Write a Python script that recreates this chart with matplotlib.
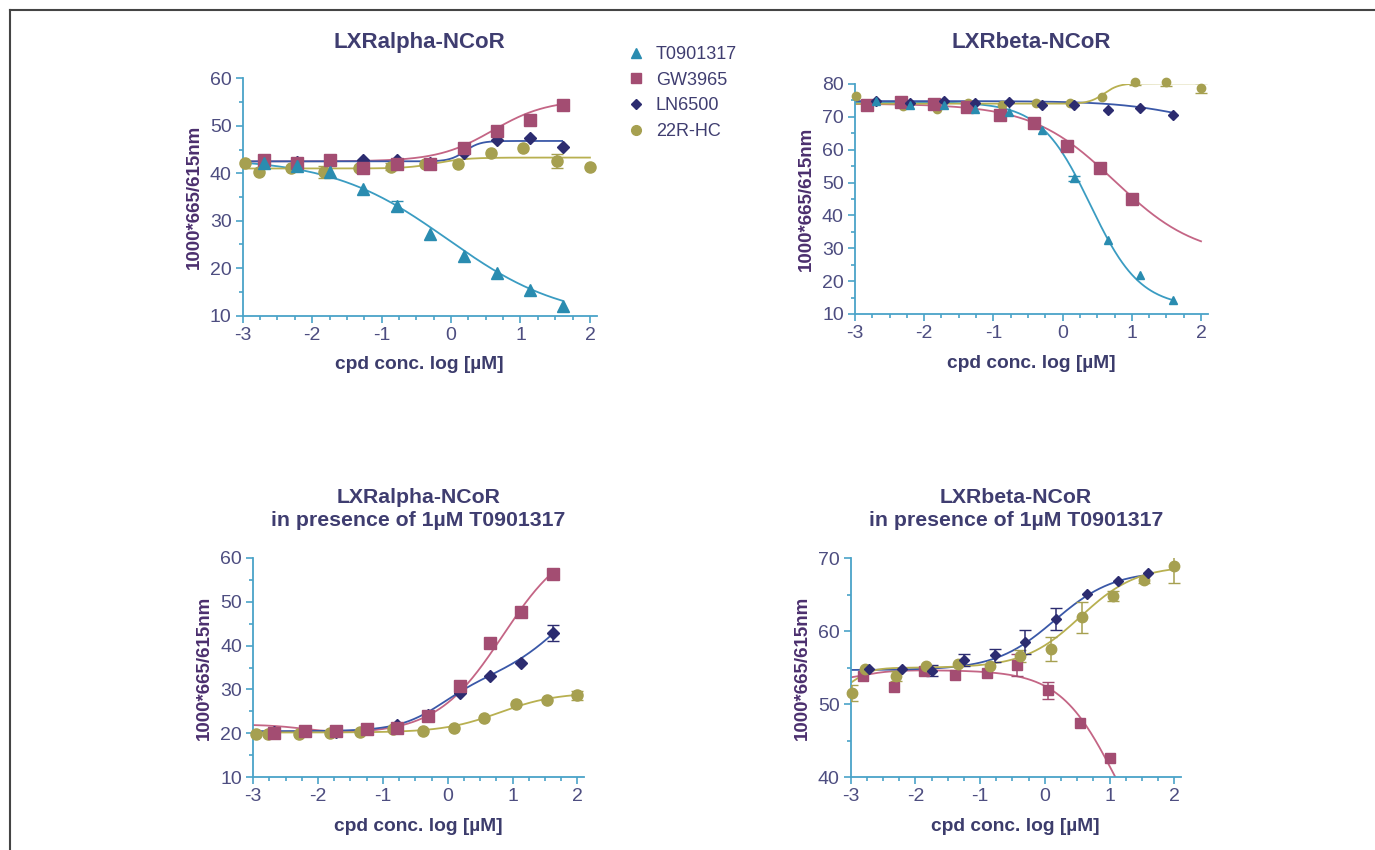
import numpy as np
import matplotlib.pyplot as plt
from matplotlib.lines import Line2D
from matplotlib.ticker import MultipleLocator

plt.rcParams['font.family'] = ['Liberation Sans', 'DejaVu Sans']
plt.rcParams['axes.unicode_minus'] = False

compounds = ['T0901317', 'GW3965', 'LN6500', '22R-HC']

# ---- panel A: LXRalpha-NCoR ----
a_x = [-2.70, -2.22, -1.74, -1.27, -0.78, -0.30, 0.18, 0.66, 1.13, 1.61]
a_t_y = [42.1, 41.5, 40.3, 36.6, 33.1, 27.3, 22.6, 18.9, 15.5, 12.1]
a_t_e = [0, 0, 0, 0, 1.0, 0, 0, 0, 0, 0]
a_gw_y = [42.8, 42.2, 42.8, 41.0, 41.9, 41.9, 45.4, 48.9, 51.2, 54.3]
a_ln_y = [42.6, 42.4, 42.5, 42.7, 42.7, 42.2, 44.2, 47.1, 47.4, 45.5]
a_hc_x = [-2.97, -2.77, -2.30, -1.83, -1.33, -0.87, -0.38, 0.10, 0.57, 1.04, 1.52, 2.00]
a_hc_y = [42.1, 40.2, 41.2, 40.3, 41.2, 41.4, 41.9, 41.9, 44.2, 45.4, 42.6, 41.4]
a_hc_e = [0, 0, 0, 1.2, 0, 0.8, 0, 0, 0, 0, 1.5, 0]

# ---- panel B: LXRbeta-NCoR ----
b_x = [-2.69, -2.20, -1.72, -1.27, -0.78, -0.30, 0.16, 0.66, 1.12, 1.60]
b_t_y = [74.9, 73.7, 73.7, 72.3, 71.6, 66.0, 51.3, 32.5, 21.9, 14.2]
b_t_e = [0, 0, 0, 0, 0, 0, 0.8, 0, 0, 0]
b_ln_y = [74.8, 74.2, 74.7, 74.3, 74.5, 73.5, 73.5, 72.1, 72.6, 70.6]
b_gw_x = [-2.82, -2.34, -1.86, -1.38, -0.90, -0.42, 0.06, 0.54, 1.00]
b_gw_y = [73.6, 74.5, 73.9, 73.1, 70.7, 68.0, 61.1, 54.3, 45.0]
b_hc_x = [-2.99, -2.30, -1.82, -1.36, -0.87, -0.38, 0.10, 0.57, 1.05, 1.50, 2.00]
b_hc_y = [76.3, 73.3, 72.3, 74.3, 73.6, 74.1, 74.1, 76.1, 80.5, 80.7, 78.9]
b_hc_e = [0, 0, 0, 0, 0, 0, 0, 0, 0.9, 1.2, 1.5]

# ---- panel C: LXRalpha-NCoR + 1uM T0901317 ----
c_x = [-2.68, -2.20, -1.73, -1.25, -0.78, -0.30, 0.19, 0.65, 1.13, 1.62]
c_gw_y = [20.0, 20.5, 20.5, 21.0, 21.2, 24.0, 30.8, 40.5, 47.7, 56.3]
c_ln_y = [20.4, 20.6, 20.3, 21.1, 22.0, 24.3, 29.3, 33.1, 36.1, 42.9]
c_ln_e = [0, 0, 0, 0, 0, 0, 0, 0, 0, 1.8]
c_hc_x = [-2.96, -2.77, -2.30, -1.82, -1.35, -0.84, -0.38, 0.10, 0.56, 1.05, 1.53, 2.00]
c_hc_y = [19.8, 19.8, 19.8, 20.0, 20.4, 20.9, 20.5, 21.3, 23.4, 26.6, 27.6, 28.7]
c_hc_e = [0, 0, 0, 0, 0, 0, 0, 0, 0, 0, 0, 1.0]

# ---- panel D: LXRbeta-NCoR + 1uM T0901317 ----
d_ln_x = [-2.71, -2.21, -1.75, -1.25, -0.77, -0.31, 0.17, 0.65, 1.13, 1.60]
d_ln_y = [54.8, 54.8, 54.6, 56.1, 56.7, 58.6, 61.7, 65.1, 66.9, 68.0]
d_ln_e = [0, 0, 0.75, 0.85, 0.85, 1.65, 1.5, 0, 0, 0]
d_hc_x = [-2.98, -2.78, -2.30, -1.83, -1.34, -0.85, -0.38, 0.09, 0.57, 1.05, 1.53, 2.00]
d_hc_y = [51.6, 54.8, 53.9, 55.3, 55.5, 55.2, 56.6, 57.6, 61.9, 64.8, 67.1, 68.9]
d_hc_e = [1.1, 0, 0.7, 0, 0, 0, 0.8, 1.6, 2.15, 0.7, 0.5, 2.3]
d_gw_x = [-2.81, -2.33, -1.87, -1.39, -0.90, -0.43, 0.05, 0.54, 1.00]
d_gw_y = [53.9, 52.4, 54.5, 54.0, 54.3, 55.4, 51.9, 47.5, 42.7]
d_gw_e = [0, 0, 0, 0, 0, 1.5, 1.2, 0, 0]

# fitted curve parameters: (y0, d1, logEC50_1, hill1, d2, logEC50_2, hill2), x end
a_fits = {'T0901317': ((43.2, -34.2, -0.05, 0.52, 0, 0, 1), 1.6),
          'GW3965': ((42.5, 13.0, 0.6, 1.1, 0, 0, 1), 1.6),
          'LN6500': ((42.5, 4.3, 0.2, 4.0, 0, 0, 1), 1.6),
          '22R-HC': ((41.0, 2.3, -0.2, 2.0, 0, 0, 1), 2.0)}
b_fits = {'T0901317': ((74.5, -62.5, 0.4, 1.2, 0, 0, 1), 1.6),
          'GW3965': ((74.0, -47.0, 0.75, 0.73, 0, 0, 1), 2.0),
          'LN6500': ((74.8, -9.8, 1.9, 0.8, 0, 0, 1), 1.6),
          '22R-HC': ((74.0, 6.2, 0.6, 4.0, 0, 0, 1), 2.0)}
c_fits = {'GW3965': ((22.0, -2.2, -2.2, 1.5, 45.0, 0.85, 0.85), 1.6),
          'LN6500': ((20.5, 11.0, -0.1, 1.3, 30.0, 1.9, 0.8), 1.6),
          '22R-HC': ((20.2, 9.1, 0.8, 1.0, 0, 0, 1), 2.0)}
d_fits = {'GW3965': ((53.3, 1.4, -2.8, 2.0, -29.7, 1.1, 1.0), 2.0),
          'LN6500': ((54.7, 13.6, 0.15, 0.95, 0, 0, 1), 1.6),
          '22R-HC': ((51.5, 3.5, -2.95, 3.0, 14.0, 0.55, 1.0), 2.0)}

mk = {'T0901317': '^', 'GW3965': 's', 'LN6500': 'D', '22R-HC': 'o'}
mcol = {'T0901317': '#2a8cb0', 'GW3965': '#a34d72', 'LN6500': '#2c2c70', '22R-HC': '#a6a050'}
lcol = {'T0901317': '#3a9cc2', 'GW3965': '#c46585', 'LN6500': '#3a58a8', '22R-HC': '#b8b050'}

AXCOL = '#4aa3c8'
TICKCOL = '#4d4d80'
TITLECOL = '#3f3d70'


def curve(x, p):
    y0, d1, c1, h1, d2, c2, h2 = p
    return y0 + d1 / (1 + 10 ** ((c1 - x) * h1)) + d2 / (1 + 10 ** ((c2 - x) * h2))


def draw(ax, fits, points, ylim, ystep, msz):
    for name, (p, xend) in fits.items():
        xs = np.linspace(-3, xend, 300)
        ax.plot(xs, curve(xs, p), color=lcol[name], lw=1.3, zorder=2)
    for name, x, y, e in points:
        s = msz[name]
        if e is not None:
            e = np.array(e)
            m = e > 0
            ax.errorbar(np.array(x)[m], np.array(y)[m], yerr=e[m], fmt='none',
                        ecolor=mcol[name], elinewidth=1.1, capsize=4, zorder=3)
        ax.plot(x, y, ls='none', marker=mk[name], ms=s, color=mcol[name],
                mec=mcol[name], zorder=4, clip_on=False)
    ax.set_xlim(-3, 2.1)
    ax.set_ylim(*ylim)
    ax.xaxis.set_major_locator(MultipleLocator(1))
    ax.xaxis.set_minor_locator(MultipleLocator(0.25))
    ax.yaxis.set_major_locator(MultipleLocator(ystep))
    ax.yaxis.set_minor_locator(MultipleLocator(ystep / 2))
    for s in ['top', 'right']:
        ax.spines[s].set_visible(False)
    for s in ['left', 'bottom']:
        ax.spines[s].set_color(AXCOL)
        ax.spines[s].set_linewidth(1.3)
    ax.tick_params(which='both', direction='out', color=AXCOL, width=1.2)
    ax.tick_params(which='major', length=5, labelsize=14, labelcolor=TICKCOL, pad=3)
    ax.tick_params(which='minor', length=3)
    ax.set_xlabel('cpd conc. log [µM]', fontsize=13.8, fontweight='bold', color='#3c3c6c', labelpad=9)
    ax.set_ylabel('1000*665/615nm', fontsize=13.5, fontweight='bold', color='#4b2f6e', labelpad=5)


fig = plt.figure(figsize=(13.75, 8.5), dpi=100)
ax_a = fig.add_axes([0.1765, 0.6286, 0.2576, 0.2793])
ax_b = fig.add_axes([0.6218, 0.6306, 0.2567, 0.2706])
ax_c = fig.add_axes([0.1842, 0.0855, 0.2404, 0.2584])
ax_d = fig.add_axes([0.6187, 0.0855, 0.2400, 0.2576])

big = {'T0901317': 8, 'GW3965': 8.5, 'LN6500': 6, '22R-HC': 8}
small = {'T0901317': 6, 'GW3965': 8, 'LN6500': 5, '22R-HC': 6}
mid = {'T0901317': 7, 'GW3965': 7.5, 'LN6500': 5.5, '22R-HC': 7.5}

draw(ax_a, a_fits,
     [('22R-HC', a_hc_x, a_hc_y, a_hc_e), ('LN6500', a_x, a_ln_y, None),
      ('GW3965', a_x, a_gw_y, None), ('T0901317', a_x, a_t_y, a_t_e)],
     (10, 60), 10, big)
draw(ax_b, b_fits,
     [('22R-HC', b_hc_x, b_hc_y, b_hc_e), ('GW3965', b_gw_x, b_gw_y, None),
      ('LN6500', b_x, b_ln_y, None), ('T0901317', b_x, b_t_y, b_t_e)],
     (10, 80), 10, small)
draw(ax_c, c_fits,
     [('LN6500', c_x, c_ln_y, c_ln_e), ('22R-HC', c_hc_x, c_hc_y, c_hc_e),
      ('GW3965', c_x, c_gw_y, None)],
     (10, 60), 10, big)
draw(ax_d, d_fits,
     [('GW3965', d_gw_x, d_gw_y, d_gw_e), ('22R-HC', d_hc_x, d_hc_y, d_hc_e),
      ('LN6500', d_ln_x, d_ln_y, d_ln_e)],
     (40, 70), 10, mid)

tkw = dict(fontweight='bold', color=TITLECOL)
ax_a.set_title('LXRalpha-NCoR', pad=22, fontsize=16, **tkw)
ax_b.set_title('LXRbeta-NCoR', pad=26, fontsize=16, **tkw)
ax_c.set_title('LXRalpha-NCoR\nin presence of 1µM T0901317', pad=23, linespacing=1.28,
               fontsize=15.3, **tkw)
ax_d.set_title('LXRbeta-NCoR\nin presence of 1µM T0901317', pad=23, linespacing=1.28,
               fontsize=15.3, **tkw)

handles = [Line2D([], [], ls='none', marker=mk[n], ms=7 if n != 'LN6500' else 5.5,
                  color=mcol[n]) for n in compounds]
fig.legend(handles, compounds, loc='upper left', bbox_to_anchor=(0.456, 0.946),
           frameon=False, fontsize=13, labelcolor='#3f3d70', handlelength=1.0,
           handletextpad=0.6, labelspacing=0.48, borderpad=0, borderaxespad=0)

# frame lines of the original figure panel
fig.add_artist(Line2D([10 / 1375, 1], [1 - 10 / 850, 1 - 10 / 850], color='#444444', lw=1.5))
fig.add_artist(Line2D([10 / 1375, 10 / 1375], [0, 1 - 10 / 850], color='#444444', lw=1.5))

fig.savefig('out.png', dpi=100)
